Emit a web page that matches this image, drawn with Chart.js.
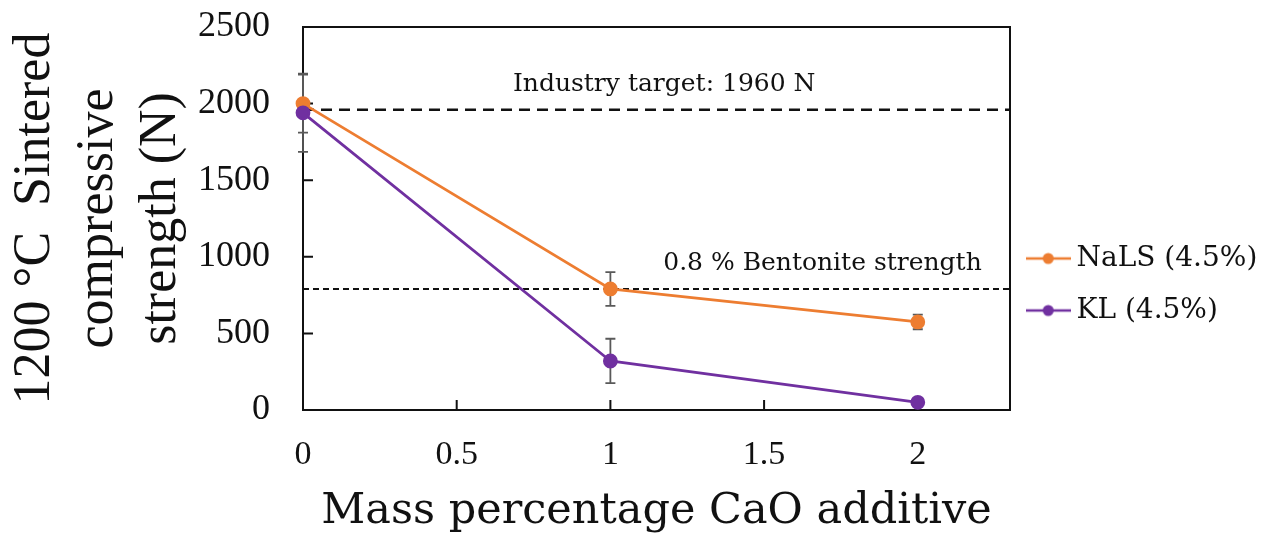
<!DOCTYPE html>
<html>
<head>
<meta charset="utf-8">
<script src="https://cdn.jsdelivr.net/npm/chart.js@4.4.1/dist/chart.umd.min.js"></script>
<style>
  html, body { margin: 0; padding: 0; background: #fff; }
</style>
</head>
<body>
<canvas id="chart" width="1266" height="545"></canvas>
<script>
// values
const caoPercent = [0, 1, 2];
const nalsStrength = [2000, 790, 575];
const nalsError = [190, 110, 48];
const klStrength = [1940, 320, 50];
const klError = [255, 145, 0];
const seriesNames = ["NaLS (4.5%)", "KL (4.5%)"];
const xTicks = [0, 0.5, 1, 1.5, 2];
const yTicks = [0, 500, 1000, 1500, 2000, 2500];
const xMax = 2.3;
const refValues = [1960, 790];
const refLabels = ["Industry target: 1960 N", "0.8 % Bentonite strength"];
const refLabelX = [1.175, 1.69];

const orange = "#ED7D31";
const purple = "#7030A0";

function legendMarker(color) {
  const c = document.createElement("canvas");
  c.width = 45;
  c.height = 14;
  const g = c.getContext("2d");
  g.strokeStyle = color;
  g.lineWidth = 2.5;
  g.beginPath();
  g.moveTo(0, 7);
  g.lineTo(45, 7);
  g.stroke();
  g.fillStyle = color;
  g.beginPath();
  g.arc(22.5, 7, 5.5, 0, Math.PI * 2);
  g.fill();
  return c;
}
const markers = [legendMarker(orange), legendMarker(purple)];

const points = (xs, ys) => xs.map((x, i) => ({ x: x, y: ys[i] }));

// frame, inner ticks and error bars under the series
const decorations = {
  id: "decorations",
  beforeDatasetsDraw(chart) {
    const { ctx, chartArea: a, scales: { x, y } } = chart;
    ctx.save();
    ctx.strokeStyle = "#111";
    ctx.lineWidth = 2;
    ctx.strokeRect(a.left, a.top, a.right - a.left, a.bottom - a.top);
    ctx.beginPath();
    x.ticks.forEach(t => {
      const px = x.getPixelForValue(t.value);
      ctx.moveTo(px, a.bottom);
      ctx.lineTo(px, a.bottom - 10);
    });
    y.ticks.forEach(t => {
      const py = y.getPixelForValue(t.value);
      ctx.moveTo(a.left, py);
      ctx.lineTo(a.left + 10, py);
    });
    ctx.stroke();

    ctx.strokeStyle = "#595959";
    ctx.lineWidth = 1.8;
    [[nalsStrength, nalsError], [klStrength, klError]].forEach(([vals, errs]) => {
      vals.forEach((v, i) => {
        if (!errs[i]) return;
        const px = x.getPixelForValue(caoPercent[i]);
        const top = y.getPixelForValue(v + errs[i]);
        const bot = y.getPixelForValue(v - errs[i]);
        ctx.beginPath();
        ctx.moveTo(px, top); ctx.lineTo(px, bot);
        ctx.moveTo(px - 5, top); ctx.lineTo(px + 5, top);
        ctx.moveTo(px - 5, bot); ctx.lineTo(px + 5, bot);
        ctx.stroke();
      });
    });
    ctx.restore();
  },
  afterDraw(chart) {
    const { ctx, scales: { x, y } } = chart;
    ctx.save();
    ctx.fillStyle = "#111";
    ctx.font = "25px 'DejaVu Serif'";
    ctx.textAlign = "center";
    ctx.textBaseline = "alphabetic";
    refLabels.forEach((txt, i) => {
      ctx.fillText(txt, x.getPixelForValue(refLabelX[i]), y.getPixelForValue(refValues[i]) - 19);
    });
    ctx.restore();
  }
};

new Chart(document.getElementById("chart"), {
  type: "line",
  data: {
    datasets: [
      {
        label: seriesNames[0],
        data: points(caoPercent, nalsStrength),
        borderColor: orange,
        backgroundColor: orange,
        borderWidth: 2.8,
        pointRadius: 6,
        pointHoverRadius: 6,
        order: 1,
        clip: false
      },
      {
        label: seriesNames[1],
        data: points(caoPercent, klStrength),
        borderColor: purple,
        backgroundColor: purple,
        borderWidth: 2.8,
        pointRadius: 6,
        pointHoverRadius: 6,
        order: 0,
        clip: false
      },
      {
        label: refLabels[0],
        data: [{ x: 0, y: refValues[0] }, { x: xMax, y: refValues[0] }],
        borderColor: "#111",
        borderWidth: 2.5,
        borderDash: [11, 7],
        pointRadius: 0,
        order: 3
      },
      {
        label: refLabels[1],
        data: [{ x: 0, y: refValues[1] }, { x: xMax, y: refValues[1] }],
        borderColor: "#111",
        borderWidth: 2,
        borderDash: [6, 4],
        pointRadius: 0,
        order: 3
      }
    ]
  },
  options: {
    responsive: false,
    animation: false,
    devicePixelRatio: 1,
    layout: { padding: { left: 0, top: 27, right: 3, bottom: 3 } },
    plugins: {
      tooltip: { enabled: false },
      legend: {
        position: "right",
        maxWidth: 253,
        labels: {
          usePointStyle: true,
          pointStyleWidth: 28.5,
          padding: 24,
          color: "#111",
          font: { family: "DejaVu Serif", size: 28 },
          generateLabels: (chart) =>
            Chart.defaults.plugins.legend.labels.generateLabels(chart)
              .filter(l => l.datasetIndex < 2)
              .sort((a, b) => a.datasetIndex - b.datasetIndex)
              .map(l => Object.assign(l, { pointStyle: markers[l.datasetIndex] }))
        }
      }
    },
    scales: {
      x: {
        type: "linear",
        min: 0,
        max: xMax,
        grid: { display: false, drawTicks: false },
        border: { display: false },
        afterBuildTicks: (s) => { s.ticks = xTicks.map(v => ({ value: v })); },
        ticks: {
          padding: 25,
          maxRotation: 0,
          color: "#111",
          font: { family: "Liberation Serif", size: 34 },
          callback: (v) => String(v)
        },
        title: {
          display: true,
          text: "Mass percentage CaO additive",
          color: "#111",
          font: { family: "DejaVu Serif", size: 43, lineHeight: 1.2 },
          padding: { top: 0, bottom: 4 }
        },
        afterFit: (s) => { s.height = 132; }
      },
      y: {
        min: 0,
        max: 2500,
        grid: { display: false, drawTicks: false },
        border: { display: false },
        afterBuildTicks: (s) => { s.ticks = yTicks.map(v => ({ value: v })); },
        ticks: {
          padding: 33,
          color: "#111",
          font: { family: "Liberation Serif", size: 36 },
          callback: (v) => String(v)
        },
        title: {
          display: true,
          text: ["1200 \u00B0C  Sintered", "compressive", "strength (N)"],
          color: "#111",
          font: { family: "Liberation Serif", size: 52, lineHeight: 1.21 },
          padding: { top: 4, bottom: 0 }
        },
        afterFit: (s) => {
          s.width = 303;
          s.paddingTop = 0;
        }
      }
    }
  },
  plugins: [decorations]
});
</script>
</body>
</html>
